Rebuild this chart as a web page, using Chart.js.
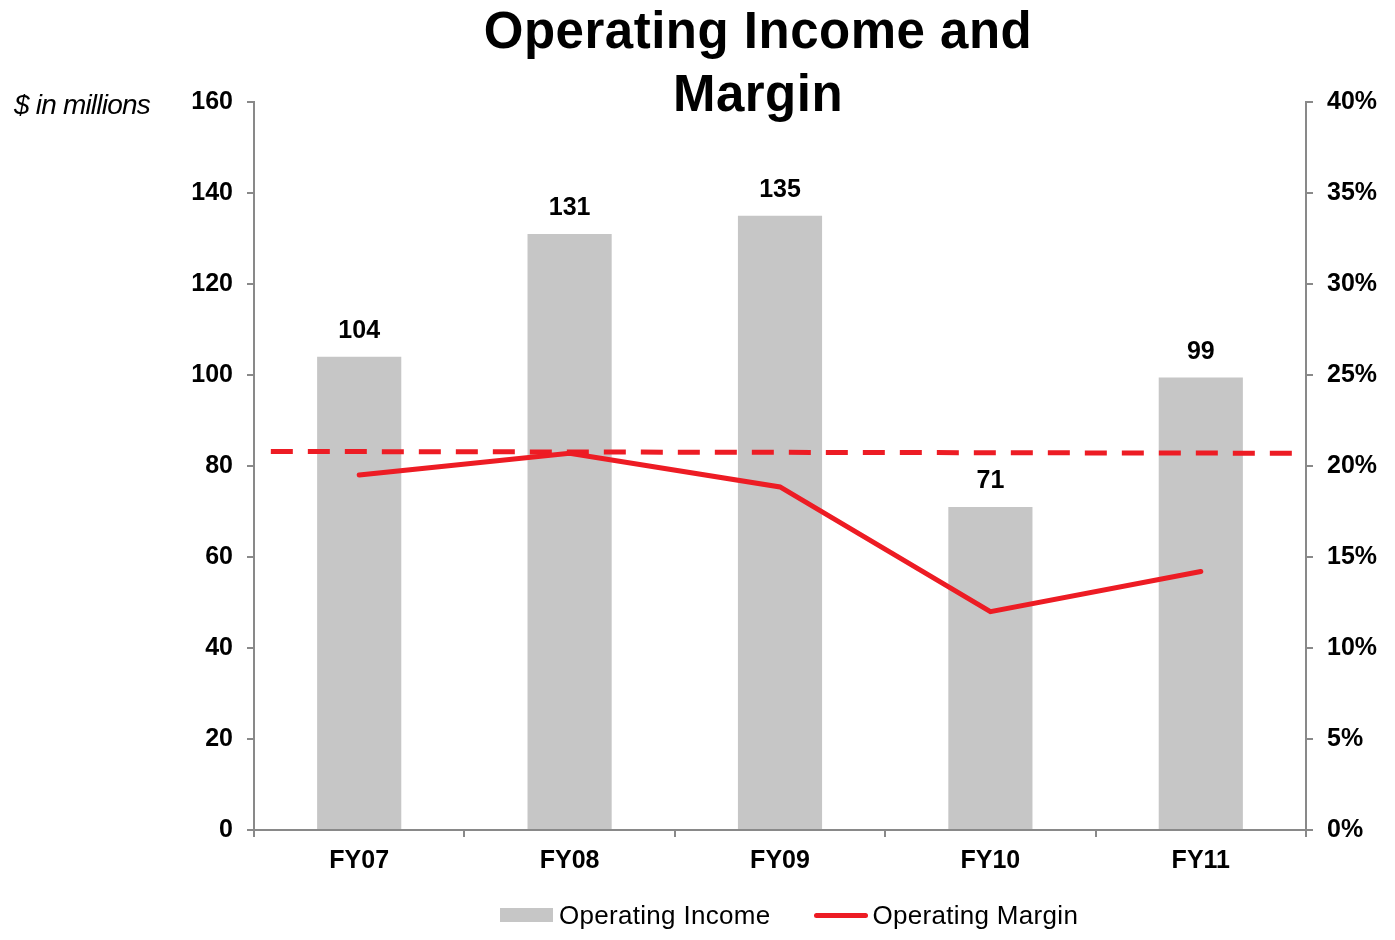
<!DOCTYPE html>
<html>
<head>
<meta charset="utf-8">
<script src="https://cdn.jsdelivr.net/npm/chart.js@4"></script>
<style>
  body { margin: 0; background: #fff; font-family: "Liberation Sans", Arial, sans-serif; }
  #wrap { position: relative; width: 1395px; height: 940px; }
  #title { position: absolute; left: 408px; width: 700px; top: -1px; text-align: center;
           font-weight: bold; font-size: 51px; line-height: 63px; letter-spacing: 0.5px; color: #000; }
  #units { position: absolute; left: 14px; top: 89px; font-style: italic; font-size: 28px;
           letter-spacing: -0.8px; color: #000; }
  #legend { position: absolute; top: 900px; left: 500px; font-size: 26px; color: #000;
            display: flex; align-items: center; height: 30px; letter-spacing: 0.3px; }
  .box { display: inline-block; width: 53px; height: 14px; background: #c6c6c6; margin-right: 6px; }
  .ln { display: inline-block; width: 54px; height: 5px; border-radius: 3px; background: #ed1c24;
        margin-left: 44px; margin-right: 4px; }
</style>
</head>
<body>
<div id="wrap">
  <canvas id="chart" width="1395" height="940"></canvas>
  <div id="title">Operating Income and<br>Margin</div>
  <div id="units">$ in millions</div>
  <div id="legend"><span class="box"></span>Operating Income<span class="ln"></span>Operating Margin</div>
</div>
<script>
const years = ['FY07', 'FY08', 'FY09', 'FY10', 'FY11'];
const operatingIncome = [104, 131, 135, 71, 99.45];
const operatingMargin = [19.5, 20.7, 18.85, 12.0, 14.2];
const averageMargin = [{ x: -0.42, y: 20.8 }, { x: 4.45, y: 20.7 }];
const leftTicks = [0, 20, 40, 60, 80, 100, 120, 140, 160];
const rightTicks = ['0%', '5%', '10%', '15%', '20%', '25%', '30%', '35%', '40%'];

const axisGray = '#898989';
const tickFont = { family: 'Liberation Sans', size: 25, weight: 'bold' };

// value labels above the bars
const barLabels = {
  id: 'barLabels',
  afterDatasetsDraw(chart) {
    const meta = chart.getDatasetMeta(2);
    const ctx = chart.ctx;
    ctx.save();
    ctx.font = 'bold 25px "Liberation Sans"';
    ctx.fillStyle = '#000';
    ctx.textAlign = 'center';
    ctx.textBaseline = 'bottom';
    meta.data.forEach((bar, i) => {
      ctx.fillText(Math.round(operatingIncome[i]), bar.x, bar.y - 13);
    });
    ctx.restore();
  }
};

new Chart(document.getElementById('chart'), {
  data: {
    labels: years,
    datasets: [
      {
        type: 'line',
        label: 'Operating Margin',
        data: operatingMargin,
        yAxisID: 'y1',
        borderColor: '#ed1c24',
        borderWidth: 5,
        borderCapStyle: 'round',
        pointRadius: 0,
        tension: 0,
        order: 0
      },
      {
        type: 'line',
        label: 'Average',
        data: averageMargin,
        xAxisID: 'x2',
        yAxisID: 'y1',
        borderColor: '#ed1c24',
        borderWidth: 5,
        borderDash: [22, 15],
        pointRadius: 0,
        order: 1
      },
      {
        type: 'bar',
        label: 'Operating Income',
        data: operatingIncome,
        yAxisID: 'y',
        backgroundColor: '#c6c6c6',
        barPercentage: 0.4,
        categoryPercentage: 1.0,
        grouped: false,
        order: 2
      }
    ]
  },
  options: {
    responsive: false,
    animation: false,
    layout: { padding: { top: 102, left: 0, right: 0, bottom: 0 } },
    plugins: { legend: { display: false }, title: { display: false }, tooltip: { enabled: false } },
    scales: {
      x: {
        type: 'category',
        border: { color: axisGray, width: 2 },
        grid: { drawOnChartArea: false, color: axisGray, lineWidth: 2, tickLength: 7, offset: true },
        ticks: { color: '#000', font: tickFont, padding: 9 },
        afterFit(scale) { scale.height = 110; }
      },
      x2: {
        type: 'linear',
        display: false,
        min: -0.5,
        max: 4.5
      },
      y: {
        position: 'left',
        min: 0,
        max: 160,
        border: { color: axisGray, width: 2 },
        grid: { drawOnChartArea: false, color: axisGray, lineWidth: 2, tickLength: 7 },
        afterBuildTicks(scale) { scale.ticks = leftTicks.map(v => ({ value: v })); },
        ticks: { color: '#000', font: tickFont, padding: 14 },
        afterFit(scale) { scale.width = 254; }
      },
      y1: {
        position: 'right',
        min: 0,
        max: 40,
        border: { color: axisGray, width: 2 },
        grid: { drawOnChartArea: false, color: axisGray, lineWidth: 2, tickLength: 7 },
        afterBuildTicks(scale) { scale.ticks = rightTicks.map((t, i) => ({ value: i * 5 })); },
        ticks: { color: '#000', font: tickFont, padding: 14, callback: (v, i) => rightTicks[i] },
        afterFit(scale) { scale.width = 89; }
      }
    }
  },
  plugins: [barLabels]
});
</script>
</body>
</html>
